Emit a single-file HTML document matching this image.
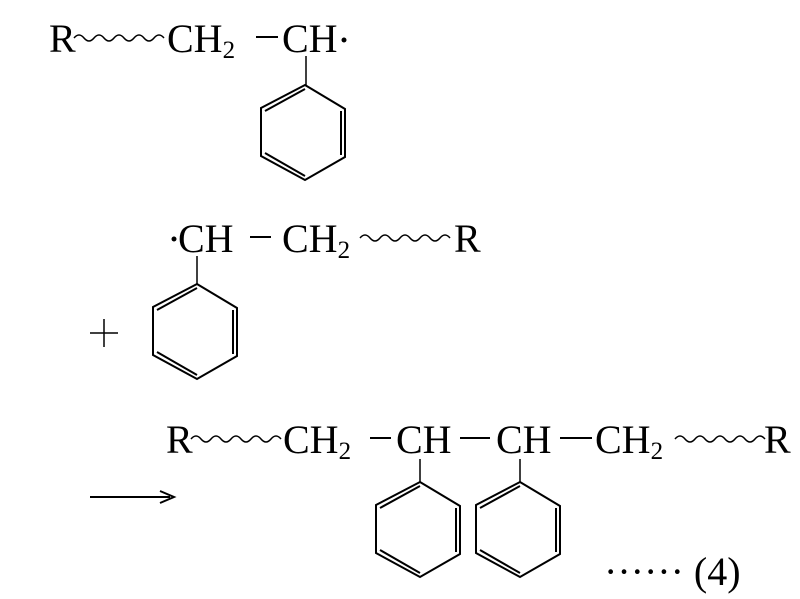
<!DOCTYPE html>
<html><head><meta charset="utf-8"><style>
html,body{margin:0;padding:0;background:#fff;}
svg{display:block;}
text{font-family:"Liberation Serif",serif;fill:#000;font-size:40px;}
.s{font-size:25px;}
</style></head><body>
<svg width="800" height="599" viewBox="0 0 800 599" xmlns="http://www.w3.org/2000/svg">
<defs>
<g id="hex" fill="none" stroke="#000" stroke-width="2">
<polygon points="0,0 40,24 40,72 0,95 -44,71 -44,23"/>
<line x1="0" y1="4" x2="-40" y2="26"/>
<line x1="36" y1="26" x2="36" y2="70"/>
<line x1="-40" y1="68" x2="0" y2="91"/>
</g>
<path id="w1" d="M0,0 q5,-6 10,0 t10,0 t10,0 t10,0 t10,0 t10,0 t10,0 t10,0 t10,0" fill="none" stroke="#000" stroke-width="1.5"/>
</defs>
<!-- row 1 -->
<text x="49" y="52">R</text>
<use href="#w1" x="74" y="38"/>
<text x="167" y="52">CH<tspan class="s" dy="6">2</tspan></text>
<line x1="256" y1="37" x2="278" y2="37" stroke="#000" stroke-width="2"/>
<text x="282" y="52">CH</text>
<circle cx="344" cy="40" r="2.5"/>
<line x1="306" y1="56" x2="306" y2="85" stroke="#000" stroke-width="1.5"/>
<use href="#hex" x="305" y="85"/>
<!-- row 2 -->
<circle cx="174" cy="239" r="2.5"/>
<text x="178" y="252">CH</text>
<line x1="250" y1="237" x2="271" y2="237" stroke="#000" stroke-width="2"/>
<text x="282" y="252">CH<tspan class="s" dy="6">2</tspan></text>
<use href="#w1" x="360" y="238"/>
<text x="454" y="252">R</text>
<line x1="197" y1="256" x2="197" y2="284" stroke="#000" stroke-width="1.5"/>
<use href="#hex" x="197" y="284"/>
<line x1="90" y1="333" x2="118" y2="333" stroke="#000" stroke-width="1.5"/>
<line x1="104" y1="319" x2="104" y2="347" stroke="#000" stroke-width="1.5"/>
<!-- row 3 -->
<text x="166" y="453">R</text>
<use href="#w1" x="191" y="439"/>
<text x="283" y="453">CH<tspan class="s" dy="6">2</tspan></text>
<line x1="370" y1="438" x2="391" y2="438" stroke="#000" stroke-width="2"/>
<text x="396" y="453">CH</text>
<line x1="460" y1="438" x2="490" y2="438" stroke="#000" stroke-width="2"/>
<text x="496" y="453">CH</text>
<line x1="560" y1="438" x2="592" y2="438" stroke="#000" stroke-width="2"/>
<text x="595" y="453">CH<tspan class="s" dy="6">2</tspan></text>
<use href="#w1" x="675" y="439"/>
<text x="764" y="453">R</text>
<line x1="420" y1="459" x2="420" y2="482" stroke="#000" stroke-width="1.5"/>
<use href="#hex" x="420" y="482"/>
<line x1="520" y1="459" x2="520" y2="482" stroke="#000" stroke-width="1.5"/>
<use href="#hex" x="520" y="482"/>
<line x1="90" y1="497" x2="170" y2="497" stroke="#000" stroke-width="2"/>
<path d="M160,491 L174,497 L160,503" fill="none" stroke="#000" stroke-width="2"/>
<text x="604" y="585">······ (4)</text>
</svg>
</body></html>
